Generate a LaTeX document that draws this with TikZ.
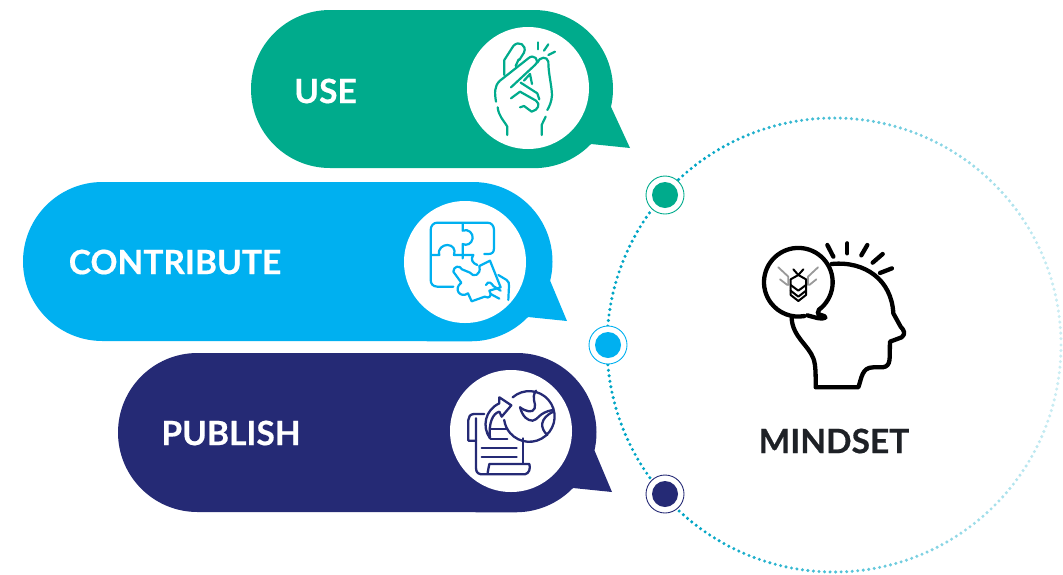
\documentclass[tikz,border=0pt]{standalone}
\usepackage{fontspec}
\setmainfont{Lato}[BoldFeatures={FakeBold=0.5}]
\definecolor{usegreen}{HTML}{00AB8C}
\definecolor{conblue}{HTML}{00B0F0}
\definecolor{pubnavy}{HTML}{252A75}
\definecolor{dotteal}{HTML}{00A5C5}
\definecolor{inkdark}{HTML}{1E2126}
\tikzset{bubble/.style={line width=0pt}}
\tikzset{disc/.style={circle, fill=white, minimum size=122pt, inner sep=0pt}}
\tikzset{lab/.style={text=white, font=\fontsize{33.5}{34}\selectfont\bfseries, inner sep=0pt}}
\tikzset{ringm/.style={circle, draw, fill=white, line width=0.9pt, minimum size=38pt, inner sep=0pt}}
\tikzset{dotm/.style={circle, minimum size=26pt, inner sep=0pt}}
\tikzset{ico/.style={line width=#1, line cap=round, line join=round}}
\begin{document}
\begin{tikzpicture}[x=1pt,y=-1pt]
        \useasboundingbox (0,0) rectangle (1063,574);

        \coordinate (cen) at (834,345);
        \foreach \a in {0,1.4,...,359} {
          \pgfmathsetmacro{\mixv}{min(100,70-50*cos(\a))}
          \fill[color=dotteal!\mixv!white] (cen) ++(\a:227) circle (1.7);
        }

        \fill[usegreen,bubble] (330,10) -- (534,10) arc (-90:13:79) -- (630,148) -- (591,144) arc (44:90:79) -- (330,168) arc (90:270:79) -- cycle;
        \fill[conblue,bubble] (102.5,182) -- (473,182) arc (-90:14:79.5) -- (567,321) -- (528,317) arc (44:90:79.5) -- (102.5,341) arc (90:270:79.5) -- cycle;
        \fill[pubnavy,bubble] (197.5,353) -- (517,353) arc (-90:13:79.5) -- (612,492) -- (573,488) arc (44:90:79.5) -- (197.5,512) arc (90:270:79.5) -- cycle;

        \node[disc] (usedisc) at (528,88) {};
        \node[disc] (condisc) at (465,262) {};
        \node[disc] (pubdisc) at (511,431) {};

        \node[lab] (uselab) at (325.5,91) {USE};
        \node[lab] (conlab) at (175,262) {CONTRIBUTE};
        \node[lab] (publab) at (231,433) {PUBLISH};
        \node[lab, text=inkdark] (mindlab) at (834,441) {MINDSET};

        \node[ringm, draw=usegreen] (usering) at (665,195) {};
        \node[dotm, fill=usegreen] (usedot) at (usering) {};
        \node[ringm, draw=conblue] (conring) at (608,345) {};
        \node[dotm, fill=conblue] (condot) at (conring) {};
        \node[ringm, draw=pubnavy] (pubring) at (665,494) {};
        \node[dotm, fill=pubnavy] (pubdot) at (pubring) {};

        \begin{scope}[shift={(450,10)},x=0.3333pt,y=-0.3333pt,usegreen,ico=2.2pt]
          \draw (172,375) -- (172,350) .. controls (160,330) and (146,318) .. (143,292);
          \draw (138,275) .. controls (134,250) and (132,228) .. (150,212) -- (235,145) .. controls (250,130) and (272,150) .. (255,165) -- (183,232);
          \draw (163,195) -- (163,150) -- (190,108) .. controls (205,90) and (232,105) .. (222,128) -- (208,150);
          \draw (197,168) -- (206,148);
          \draw (222,212) -- (240,192) -- (246,222);
          \draw (262,158) .. controls (268,140) and (292,138) .. (295,155) .. controls (295,190) and (305,225) .. (306,255) .. controls (305,275) and (298,290) .. (292,300);
          \draw (287,320) -- (275,345) -- (275,375);
          \draw (183,265) -- (210,245) -- (258,272) .. controls (272,282) and (265,300) .. (245,305) -- (222,288) -- (210,292);
          \draw (212,218) -- (262,250) -- (268,268);
          \draw (265,97) -- (265,118);
          \draw (295,103) -- (282,122);
          \draw (315,125) -- (295,135);
        \end{scope}

        \begin{scope}[shift={(390,200)},x=0.3333pt,y=-0.3333pt,conblue,ico=2.2pt]
          \draw (190,260) -- (142,260) .. controls (128,260) and (122,250) .. (122,240) -- (122,90) .. controls (122,78) and (130,68) .. (142,68) -- (292,68) .. controls (305,68) and (312,78) .. (312,90) -- (312,145) .. controls (312,158) and (305,162) .. (295,162) -- (283,162);
          \draw (218,70) -- (218,92) .. controls (235,85) and (250,100) .. (248,115) .. controls (245,132) and (230,138) .. (218,132) -- (218,175);
          \draw (125,165) -- (148,165) .. controls (142,145) and (160,135) .. (172,135) .. controls (188,135) and (198,148) .. (192,165) -- (250,165) .. controls (240,178) and (248,190) .. (262,195);
          \draw (190,215) .. controls (190,198) and (210,195) .. (216,208) -- (240,218) .. controls (248,232) and (275,228) .. (268,198) -- (300,182) -- (332,262) -- (298,272) .. controls (308,286) and (298,298) .. (284,290) -- (245,304) -- (234,280) .. controls (212,296) and (188,268) .. (214,248) -- cycle;
          \draw (325,225) -- (350,240) .. controls (356,245) and (358,250) .. (357,258) -- (355,300);
          \draw (288,255) .. controls (295,240) and (305,250) .. (310,258) -- (332,272);
          \draw (302,282) -- (328,296);
        \end{scope}

        \begin{scope}[shift={(440,370)},x=0.3333pt,y=-0.3333pt,pubnavy,ico=2.3pt]
          \draw (218,82) arc (-131:172:76);
          \draw (288,62) .. controls (272,85) and (290,100) .. (284,115);
          \draw (284,115) .. controls (278,130) and (258,125) .. (240,112);
          \draw (240,112) .. controls (248,140) and (262,152) .. (278,152) .. controls (295,150) and (295,128) .. (338,120);
          \draw (322,195) .. controls (300,175) and (298,145) .. (340,125);
          \draw (150,205) .. controls (125,170) and (135,120) .. (178,100) -- (178,82) -- (214,106) -- (185,140) -- (178,125) .. controls (158,130) and (145,160) .. (150,205);
          \draw (133,132) -- (102,132) .. controls (90,132) and (85,142) .. (85,150) -- (85,212) -- (108,212);
          \draw (108,145) -- (108,295) .. controls (108,310) and (118,313) .. (128,313) -- (255,313) .. controls (268,310) and (272,295) .. (268,282) -- (148,282) -- (143,308);
          \draw (250,205) -- (250,280);
          \draw (152,178) -- (202,178);
          \draw (152,207) -- (202,207);
          \draw (125,233) -- (230,233);
          \draw (125,260) -- (230,260);
        \end{scope}

        \begin{scope}[shift={(750,230)},x=0.3333pt,y=-0.3333pt,black,ico=4.3pt]
          \draw (207,239) arc (53:-280:103);
          \draw (207,239) -- (203,250) .. controls (212,258) and (226,255) .. (226,263) .. controls (215,270) and (195,262) .. (172,256);
          \draw (125,265) .. controls (128,320) and (175,345) .. (190,385) .. controls (198,405) and (197,440) .. (197,472) -- (325,472) .. controls (335,445) and (335,412) .. (370,412) -- (398,412) .. controls (425,408) and (418,385) .. (420,335) -- (455,322) .. controls (468,312) and (462,300) .. (452,290) -- (430,250) .. controls (425,150) and (345,92) .. (245,102);
          \draw (232,45) -- (250,80);
          \draw (292,40) -- (292,70);
          \draw (352,45) -- (334,76);
          \draw (398,72) -- (368,98);
          \draw (426,115) -- (390,129);
          \begin{scope}[gray!80,line width=1.8pt]
            \draw (85,112) -- (115,140) -- (115,165);
            \draw (90,148) -- (112,165);
            \draw (204,112) -- (174,140) -- (174,165);
            \draw (199,148) -- (178,165);
          \end{scope}
          \begin{scope}[line width=2pt]
            \draw (130,118) -- (145,135) -- (160,118);
            \draw (122,148) -- (145,135) -- (168,148) -- (168,195) -- (145,213) -- (122,195) -- cycle;
            \draw (122,165) -- (145,182) -- (168,165);
            \draw (122,182) -- (145,200) -- (168,182);
          \end{scope}
        \end{scope}
\end{tikzpicture}
\end{document}
